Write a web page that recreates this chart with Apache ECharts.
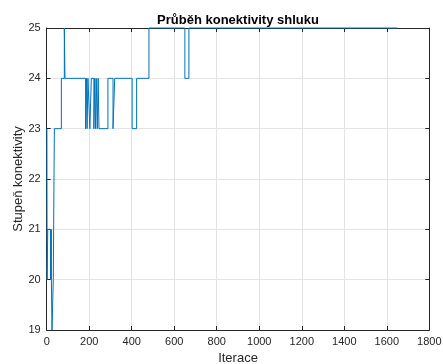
<!DOCTYPE html>
<html>
<head>
<meta charset="utf-8">
<script src="https://cdn.jsdelivr.net/npm/echarts@6/dist/echarts.min.js"></script>
<style>
  html, body { margin: 0; padding: 0; background: #fff; }
  #chart { width: 443px; height: 364px; }
</style>
</head>
<body>
<div id="chart"></div>
<script>
// Iterations at which the cluster connectivity changes, and the value held from there on
const iterations = [1, 2, 5, 18, 19, 20, 21, 22, 25, 31, 36, 69, 83, 86, 183, 187, 190, 194, 203, 210, 222, 226, 230, 233, 238, 242, 246, 288, 312, 320, 402, 423, 481, 650, 669, 1650];
const connectivity = [23, 20, 21, 20, 21, 20, 21, 20, 19, 20, 23, 24, 25, 24, 23, 24, 23, 24, 23, 24, 23, 24, 23, 24, 23, 24, 23, 24, 23, 24, 23, 24, 25, 24, 25, 25];

const xTicks = [0, 200, 400, 600, 800, 1000, 1200, 1400, 1600, 1800];
const yTicks = [19, 20, 21, 22, 23, 24, 25];

const titleText = 'Průběh konektivity shluku';
const xName = 'Iterace';
const yName = 'Stupeň konektivity';

const points = iterations.map((it, i) => [it, connectivity[i]]);

const FONT = '"Liberation Sans", Arial, Helvetica, sans-serif';
const INK = '#262626';
const GRID = '#e3e3e3';

const frameAxis = {
  axisLine: { show: true, onZero: false, lineStyle: { color: INK, width: 1 } },
  axisTick: { show: true, inside: true, length: 4, lineStyle: { color: INK, width: 1 } }
};

const chart = echarts.init(document.getElementById('chart'), null, { renderer: 'canvas' });
chart.setOption({
  animation: false,
  backgroundColor: '#ffffff',
  title: {
    text: titleText,
    left: 233,
    top: 9,
    textAlign: 'center',
    textStyle: { fontFamily: FONT, fontSize: 13, fontWeight: 'bold', color: '#000' }
  },
  grid: { left: 46.7, right: 13.7, top: 28, bottom: 34, containLabel: false, outerBoundsMode: 'none' },
  xAxis: [
    Object.assign({
      type: 'value',
      position: 'bottom',
      min: xTicks[0],
      max: xTicks[xTicks.length - 1],
      interval: 200,
      name: xName,
      nameLocation: 'middle',
      nameGap: 20,
      nameTextStyle: { fontFamily: FONT, fontSize: 13, color: INK },
      axisLabel: {
        fontFamily: FONT, fontSize: 11, color: INK, margin: 6,
        formatter: v => xTicks.includes(v) ? String(v) : ''
      },
      splitLine: { show: true, lineStyle: { color: GRID, width: 1 } }
    }, frameAxis),
    Object.assign({
      type: 'value',
      position: 'top',
      min: xTicks[0],
      max: xTicks[xTicks.length - 1],
      interval: 200,
      axisLabel: { show: false },
      splitLine: { show: false }
    }, frameAxis)
  ],
  yAxis: [
    Object.assign({
      type: 'value',
      position: 'left',
      min: yTicks[0],
      max: yTicks[yTicks.length - 1],
      interval: 1,
      name: yName,
      nameLocation: 'middle',
      nameGap: 22,
      nameMoveOverlap: false,
      nameTextStyle: { fontFamily: FONT, fontSize: 13, color: INK },
      axisLabel: { fontFamily: FONT, fontSize: 11, color: INK, margin: 6 },
      splitLine: { show: true, lineStyle: { color: GRID, width: 1 } }
    }, frameAxis),
    Object.assign({
      type: 'value',
      position: 'right',
      min: yTicks[0],
      max: yTicks[yTicks.length - 1],
      interval: 1,
      axisLabel: { show: false },
      splitLine: { show: false }
    }, frameAxis)
  ],
  series: [{
    type: 'line',
    xAxisIndex: 0,
    yAxisIndex: 0,
    data: points,
    step: 'end',
    showSymbol: false,
    clip: false,
    lineStyle: { color: '#0072BD', width: 1 },
    z: 5
  }]
});
</script>
</body>
</html>
